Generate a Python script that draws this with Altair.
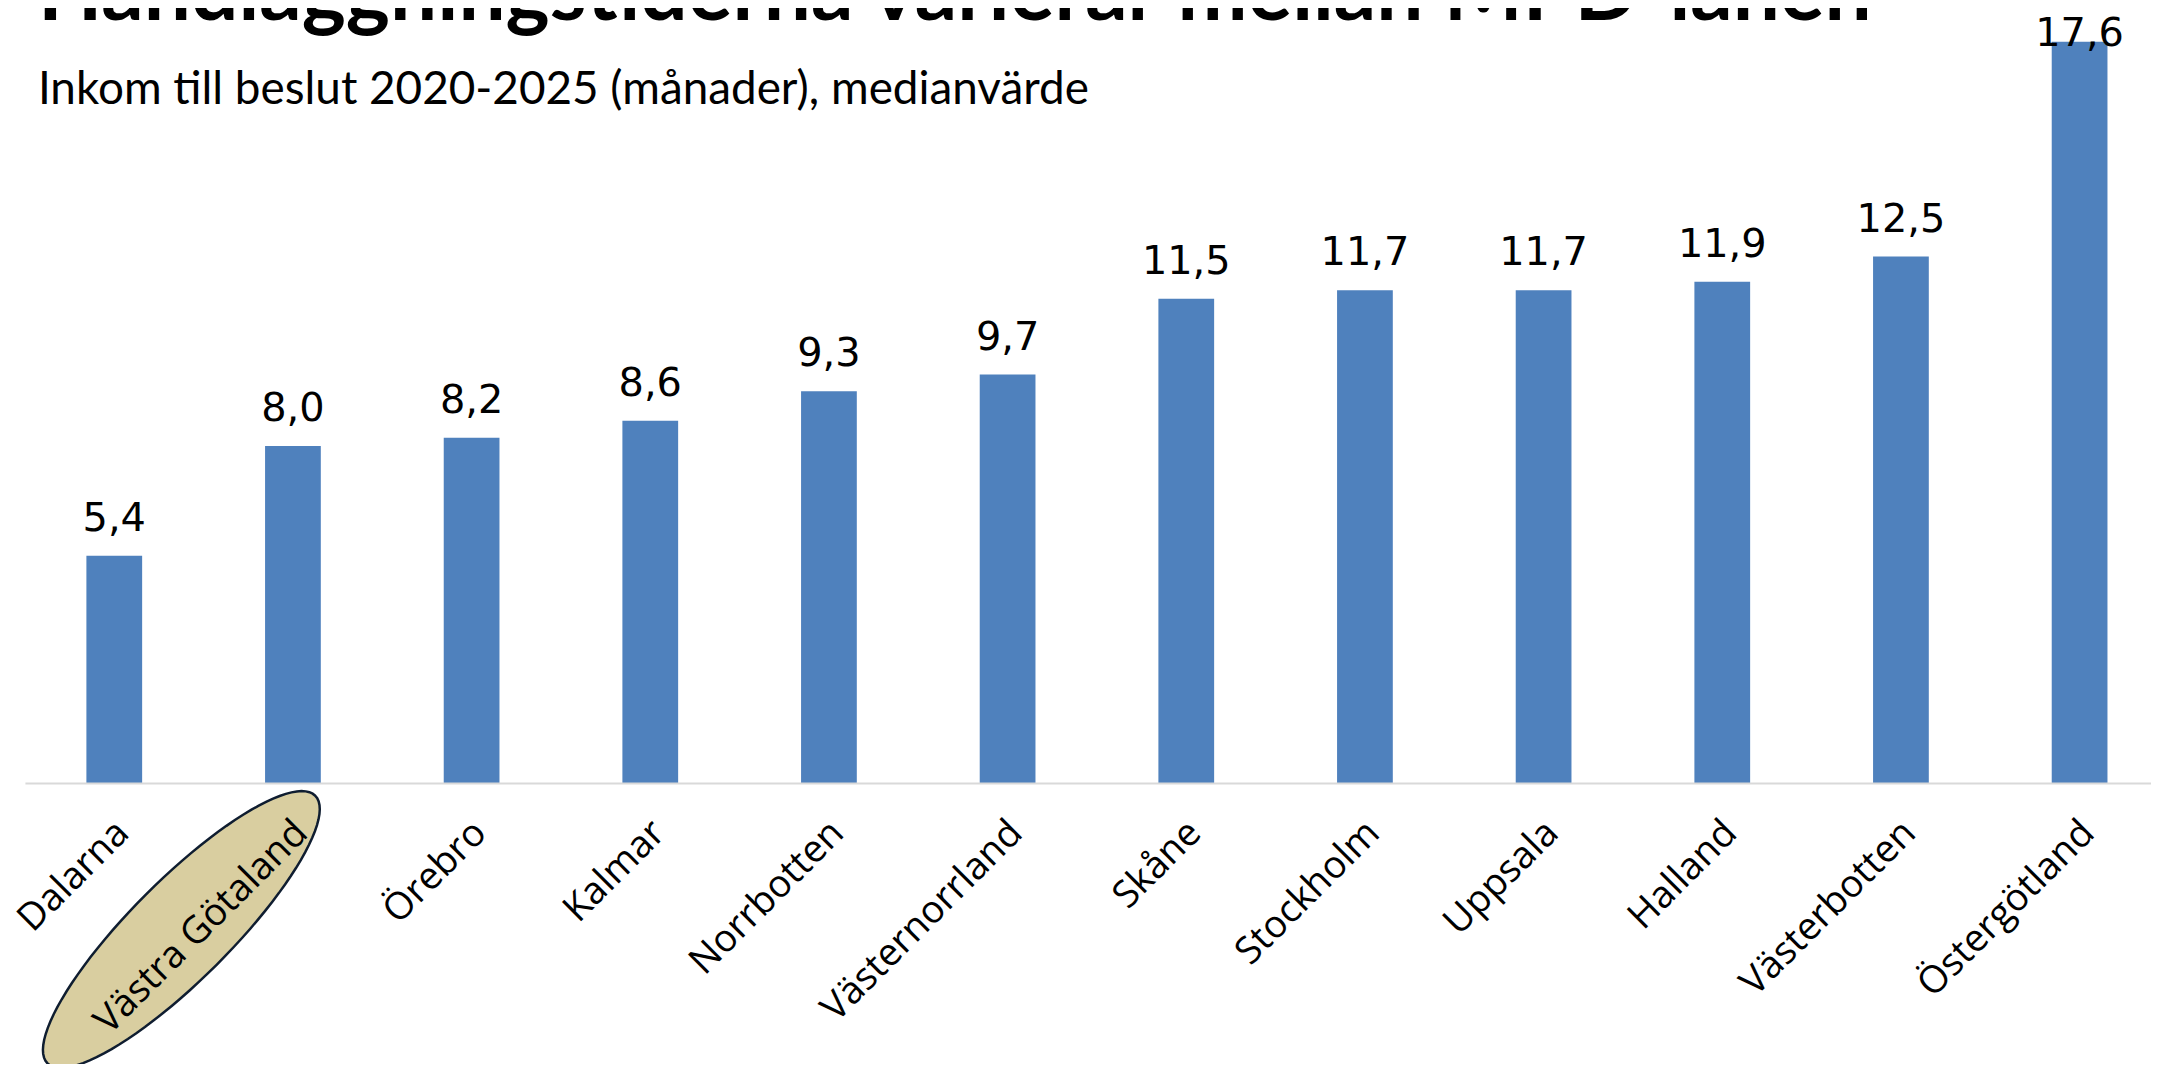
import altair as alt
import numpy as np
import pandas as pd

# ---- data ----
regions = ["Dalarna", "Västra Götaland", "Örebro", "Kalmar", "Norrbotten",
           "Västernorrland", "Skåne", "Stockholm", "Uppsala", "Halland",
           "Västerbotten", "Östergötland"]
values = [5.4, 8.0, 8.2, 8.6, 9.3, 9.7, 11.5, 11.7, 11.7, 11.9, 12.5, 17.6]
highlighted = ["Västra Götaland"]

title_text = "Handläggningstiderna varierar mellan MPD-länen"
subtitle_text = "Inkom till beslut 2020-2025 (månader), medianvärde"

# ---- styling ----
LABEL_FONT = "Open Sans"
VALUE_FONT = "DejaVu Sans"
TITLE_FONT = "Lato"
BAR_COLOR = "#4F81BD"
W, H = 2134, 761
RANGE_END = 2152
Y_MAX = 18
LABEL_CAP = 16.9

df = pd.DataFrame({"region": regions, "value": values})
hl = pd.DataFrame({"region": highlighted})

# rotated ellipse shape in [-1, 1] box
a_ax, b_ax = 1.367, 0.36
t = np.linspace(0, 2 * np.pi, 97)[:-1]
ex, ey = a_ax * np.cos(t), b_ax * np.sin(t)
c = np.sqrt(0.5)
px, py = c * (ex + ey), c * (-ex + ey)
ellipse_path = "M" + " L".join(f"{u:.4f},{v:.4f}" for u, v in zip(px, py)) + " Z"

x_enc = alt.X(
    "region:N",
    sort=regions,
    scale=alt.Scale(range=[0, RANGE_END], paddingInner=0.688, paddingOuter=0.344),
    axis=alt.Axis(
        title=None, labelAngle=-45, labelAlign="right", labelBaseline="middle",
        labelFont=LABEL_FONT, labelFontSize=38, labelColor="black", labelPadding=44,
        labelOffset=9, ticks=False, domainColor="#D9D9D9", domainWidth=2, zindex=1,
        labelOverlap=False, labelLimit=0,
    ),
)
y_scale = alt.Scale(domain=[0, Y_MAX], nice=False, zero=True)

ellipse = alt.Chart(hl).mark_point(
    shape=ellipse_path, size=278 * 278, filled=True, fill="#D9CEA0",
    stroke="#0F1D30", strokeWidth=2.5, opacity=1, fillOpacity=1,
    xOffset=-112, yOffset=147,
).encode(x=x_enc, y=alt.value(H))

bars = alt.Chart(df).mark_bar(color=BAR_COLOR).encode(
    x=x_enc,
    y=alt.Y("value:Q", scale=y_scale, axis=None),
)

labels = alt.Chart(df).transform_calculate(
    label="replace(format(datum.value, '.1f'), '.', ',')",
    ypos=f"min(datum.value, {LABEL_CAP})",
).mark_text(
    font=VALUE_FONT, fontSize=40, color="black", baseline="alphabetic", dy=-25,
).encode(
    x=x_enc,
    y=alt.Y("ypos:Q", scale=y_scale, axis=None),
    text="label:N",
)

chart = alt.layer(ellipse, bars, labels).properties(
    width=W, height=H,
    title=alt.TitleParams(
        text=title_text, subtitle=subtitle_text, anchor="start", frame="group",
        font=TITLE_FONT, fontSize=84, fontWeight="bold", color="black",
        subtitleFont=TITLE_FONT, subtitleFontSize=46, subtitleColor="black",
        subtitleFontWeight="normal", dx=13, offset=-100, subtitlePadding=30,
    ),
    autosize=alt.AutoSizeParams(type="none"),
    padding={"left": 17, "top": 15, "right": 0, "bottom": 280},
).configure_view(stroke=None)

chart.save("out.html", embed_options={"renderer": "svg", "actions": False})
